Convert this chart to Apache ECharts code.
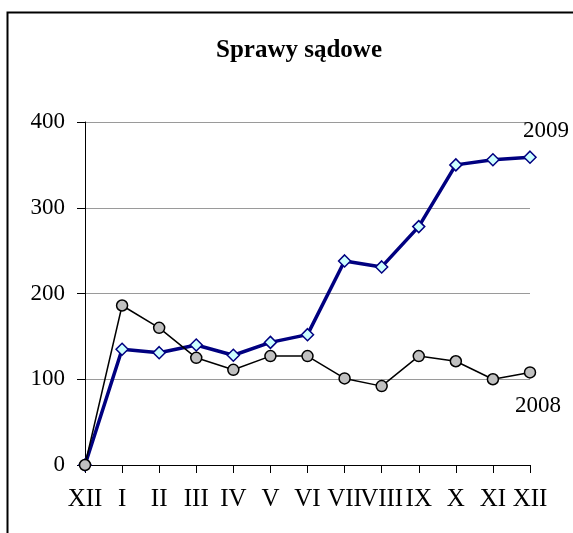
<!DOCTYPE html>
<html>
<head>
<meta charset="utf-8">
<script src="https://cdn.jsdelivr.net/npm/echarts@6/dist/echarts.min.js"></script>
<style>
  html, body { margin: 0; padding: 0; background: #fff; }
  #chart { width: 573px; height: 533px; }
</style>
</head>
<body>
<div id="chart"></div>
<script>
// months: XII of the previous year through XII
var months = ['XII', 'I', 'II', 'III', 'IV', 'V', 'VI', 'VII', 'VIII', 'IX', 'X', 'XI', 'XII']
var cases2009 = [0, 135, 131, 140, 128, 143, 152, 238, 231, 278, 350, 356, 359]
var cases2008 = [0, 186, 160, 125, 111, 127, 127, 101, 92, 127, 121, 100, 108]
var yTicks = [0, 100, 200, 300, 400]

var font = 'Liberation Serif'

var chart = echarts.init(document.getElementById('chart'))
chart.setOption({
  animation: false,
  title: {
    text: 'Sprawy sądowe',
    left: 294,
    top: 33,
    textAlign: 'center',
    textStyle: { fontFamily: font, fontSize: 25, fontWeight: 'bold', color: '#000' }
  },
  graphic: [{
    type: 'rect',
    left: 5,
    top: 10,
    shape: { width: 620, height: 600 },
    style: { fill: 'none', stroke: '#000', lineWidth: 2 },
    silent: true
  }],
  grid: { left: 85, right: 43, top: 122, bottom: 68 },
  xAxis: {
    type: 'category',
    data: months,
    boundaryGap: false,
    axisLine: { lineStyle: { color: '#000', width: 1 } },
    axisTick: { show: true, length: 8, lineStyle: { color: '#000' } },
    axisLabel: {
      interval: 0,
      hideOverlap: false,
      margin: 22,
      color: '#000',
      fontFamily: font,
      fontSize: 25
    }
  },
  yAxis: {
    type: 'value',
    min: yTicks[0],
    max: yTicks[yTicks.length - 1],
    interval: 100,
    axisLine: { show: true, lineStyle: { color: '#000', width: 1 } },
    axisTick: { show: true, length: 8, lineStyle: { color: '#000' } },
    axisLabel: { margin: 20, color: '#000', fontFamily: font, fontSize: 23 },
    splitLine: { lineStyle: { color: '#9a9a9a', width: 1 } }
  },
  series: [{
    name: '2009',
    type: 'line',
    data: cases2009,
    symbol: 'diamond',
    symbolSize: 12,
    lineStyle: { color: '#000080', width: 3.5 },
    itemStyle: { color: '#ccffff', borderColor: '#000080', borderWidth: 1.5 },
    endLabel: {
      show: true,
      formatter: '{a}',
      distance: 0,
      align: 'center',
      verticalAlign: 'middle',
      offset: [16, -26],
      color: '#000',
      fontFamily: font,
      fontSize: 23
    }
  }, {
    name: '2008',
    type: 'line',
    data: cases2008,
    symbol: 'circle',
    symbolSize: 11,
    lineStyle: { color: '#000', width: 1.5 },
    itemStyle: { color: '#c0c0c0', borderColor: '#000', borderWidth: 1.5 },
    endLabel: {
      show: true,
      formatter: '{a}',
      distance: 0,
      align: 'center',
      verticalAlign: 'middle',
      offset: [8, 34],
      color: '#000',
      fontFamily: font,
      fontSize: 23
    }
  }]
})
</script>
</body>
</html>
